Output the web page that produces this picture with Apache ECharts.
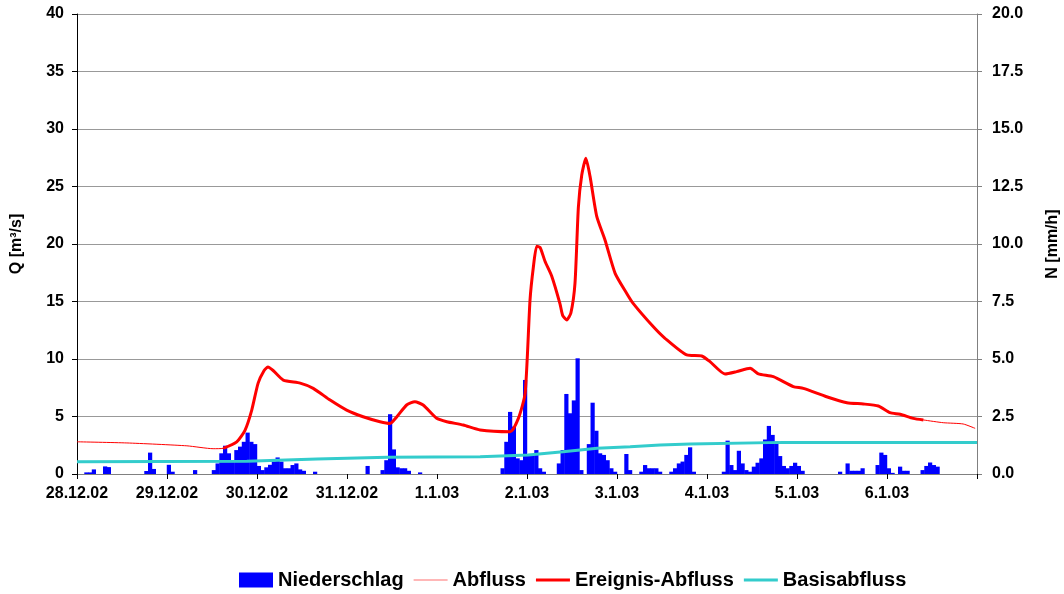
<!DOCTYPE html>
<html>
<head>
<meta charset="utf-8">
<script src="https://cdn.jsdelivr.net/npm/echarts@6/dist/echarts.min.js"></script>
<style>
  html, body { margin: 0; padding: 0; background: #fff; }
  #myChart { width: 1064px; height: 594px; }
</style>
</head>
<body>
<div id="myChart"></div>
<script>
// x-Achse: Stunden ab 28.12.02 00:00, ein Tick pro Tag
const xLabels = ['28.12.02', '29.12.02', '30.12.02', '31.12.02', '1.1.03', '2.1.03', '3.1.03', '4.1.03', '5.1.03', '6.1.03', '']

// Niederschlag [mm/h], stündlich (Stunde, Wert)
const nStunde = [2, 3, 4, 7, 8, 18, 19, 20, 24, 25, 31, 36, 37, 38, 39, 40, 41, 42, 43, 44, 45, 46, 47,
  48, 49, 50, 51, 52, 53, 54, 55, 56, 57, 58, 59, 60, 63, 77, 81, 82, 83, 84, 85, 86, 87, 88, 91,
  113, 114, 115, 116, 117, 118, 119, 120, 121, 122, 123, 124, 128, 129, 130, 131, 132, 133, 134,
  136, 137, 138, 139, 140, 141, 142, 143, 146, 147, 150, 151, 152, 153, 154, 155, 158, 159, 160,
  161, 162, 163, 164, 172, 173, 174, 175, 176, 177, 178, 179, 180, 181, 182, 183, 184, 185, 186,
  187, 188, 189, 190, 191, 192, 193, 203, 205, 206, 207, 208, 209, 213, 214, 215, 216, 217, 219,
  220, 221, 225, 226, 227, 228, 229]
const nWert = [0.07, 0.07, 0.2, 0.33, 0.3, 0.13, 0.93, 0.22, 0.4, 0.1, 0.17, 0.17, 0.46, 0.9, 1.23, 0.9, 0.54, 1.04, 1.19, 1.4, 1.8, 1.4, 1.3,
  0.35, 0.17, 0.29, 0.4, 0.55, 0.72, 0.54, 0.25, 0.25, 0.39, 0.46, 0.2, 0.14, 0.1, 0.35, 0.17, 0.6, 2.6, 1.07, 0.29, 0.25, 0.25, 0.14, 0.07,
  0.25, 1.4, 2.7, 2.06, 0.68, 0.6, 4.09, 0.83, 0.83, 1.04, 0.25, 0.1, 0.46, 1.04, 3.48, 2.64, 3.2, 5.03, 0.17,
  1.3, 3.1, 1.88, 0.9, 0.83, 0.6, 0.25, 0.1, 0.87, 0.17, 0.1, 0.39, 0.25, 0.25, 0.25, 0.1, 0.1, 0.25, 0.46,
  0.54, 0.83, 1.16, 0.1, 0.1, 1.45, 0.39, 0.17, 1.01, 0.46, 0.17, 0.1, 0.32, 0.49, 0.68, 1.5, 2.09, 1.7, 1.41,
  0.78, 0.35, 0.25, 0.35, 0.49, 0.35, 0.14, 0.1, 0.46, 0.14, 0.14, 0.14, 0.25, 0.39, 0.93, 0.83, 0.25, 0.05, 0.32,
  0.14, 0.14, 0.17, 0.35, 0.5, 0.39, 0.32]

// Abfluss Q [m3/s]
const qStunde = [0, 13.3, 29.3, 36.3, 39, 42.6, 44.8, 46.6, 48.3, 49.9, 50.9, 52.3, 55, 59.5, 63, 67.5, 71.9,
  76.3, 80.8, 83.5, 85.3, 87.9, 90.1, 92.3, 95.9, 98.6, 103, 107.5, 115.5, 117.7, 119.5, 120.8, 121.7,
  122.6, 123.5, 124.8, 126.6, 128.8, 129.5, 130.6, 131.7, 132.8, 133.7, 134.6, 135.7, 136.8, 138.6,
  140.8, 143.5, 146.6, 148.3, 153.7, 156.8, 162.6, 166.6, 168.8, 172.8, 175.9, 179.5, 181.7, 185.7,
  191, 193.7, 199.9, 205.3, 209.7, 213.7, 216.8, 219.5, 223, 225.7, 231, 236.3, 239.5]
const qWert = [2.8, 2.7, 2.45, 2.2, 2.23, 2.8, 3.8, 5.56, 7.9, 9.0, 9.3, 9.0, 8.17, 7.9, 7.45, 6.43, 5.56,
  4.98, 4.55, 4.4, 4.98, 6.0, 6.28, 6.0, 4.84, 4.55, 4.26, 3.83, 3.68, 4.84, 7.0, 15.1, 18.0,
  19.8, 19.7, 18.5, 17.2, 14.8, 13.8, 13.4, 14.0, 16.6, 23.2, 26.0, 27.45, 25.9, 22.4,
  20.35, 17.45, 15.7, 14.84, 12.8, 11.8, 10.35, 10.26, 9.77, 8.7, 8.9, 9.19, 8.7, 8.46,
  7.6, 7.45, 6.72, 6.2, 6.09, 5.91, 5.33, 5.2, 4.84, 4.7, 4.46, 4.35, 3.97]

// Ereignis: Zeitfenster (Stunden)
const ereignisVon = 39
const ereignisBis = 225.7

// Basisabfluss [m3/s]
const bStunde = [0, 45.3, 64, 82.7, 107.5, 120.3, 129.6, 138.7, 147.5, 155.5, 163.5, 188.3, 240]
const bWert = [1.07, 1.1, 1.3, 1.45, 1.5, 1.65, 1.94, 2.23, 2.37, 2.52, 2.6, 2.75, 2.75]

const font = { fontFamily: 'Liberation Sans, Arial, sans-serif', fontWeight: 'bold', color: '#000' }

// Legendensymbole als Linien (unsichtbare Punkte halten die Box 34x15)
const iconDuenn = 'path://M0,0M34,15M0,7L34,7L34,8L0,8Z'
const iconDick = 'path://M0,0M34,15M0,6L34,6L34,9L0,9Z'

const niederschlag = nStunde.map((h, i) => [h + 0.5, nWert[i]])
const abfluss = qStunde.map((h, i) => [h, qWert[i]])
const ereignis = qStunde.map((h, i) => [h, qWert[i]]).filter(p => p[0] >= ereignisVon && p[0] <= ereignisBis)
const basis = bStunde.map((h, i) => [h, bWert[i]])

const myChart = echarts.init(document.getElementById('myChart'))
const option = {
  animation: false,
  backgroundColor: '#fff',
  textStyle: font,
  grid: { left: 77, right: 87, top: 14, bottom: 120, outerBoundsMode: 'none' },
  legend: {
    top: 565,
    left: 234,
    itemWidth: 34,
    itemHeight: 15,
    itemGap: 10,
    textStyle: { ...font, fontSize: 20 },
    data: [
      { name: 'Niederschlag', icon: 'rect' },
      { name: 'Abfluss', icon: iconDuenn, itemStyle: { color: '#ff7070' } },
      { name: 'Ereignis-Abfluss', icon: iconDick },
      { name: 'Basisabfluss', icon: iconDick }
    ]
  },
  xAxis: {
    type: 'value',
    min: 0,
    max: 240,
    interval: 24,
    axisLine: { lineStyle: { color: '#808080', width: 1 } },
    axisTick: { show: true, inside: false, length: 5, lineStyle: { color: '#000' } },
    splitLine: { show: false },
    axisLabel: {
      ...font,
      fontSize: 16,
      margin: 12,
      formatter: v => xLabels[Math.round(v / 24)]
    }
  },
  yAxis: [
    {
      type: 'value',
      min: 0,
      max: 40,
      interval: 5,
      name: 'Q [m³/s]',
      nameLocation: 'middle',
      nameRotate: 90,
      nameGap: 52,
      nameTextStyle: { ...font, fontSize: 16 },
      axisLine: { show: true, lineStyle: { color: '#000' } },
      axisTick: { show: true, length: 5, lineStyle: { color: '#000' } },
      splitLine: { lineStyle: { color: '#999', width: 1 } },
      axisLabel: { ...font, fontSize: 16, margin: 13 }
    },
    {
      type: 'value',
      min: 0,
      max: 20,
      interval: 2.5,
      name: 'N [mm/h]',
      nameLocation: 'middle',
      nameRotate: 90,
      nameGap: 68,
      nameTextStyle: { ...font, fontSize: 16 },
      axisLine: { show: true, lineStyle: { color: '#808080' } },
      axisTick: { show: true, length: 5, lineStyle: { color: '#808080' } },
      splitLine: { show: false },
      axisLabel: { ...font, fontSize: 16, margin: 15, formatter: v => v.toFixed(1) }
    }
  ],
  series: [
    {
      name: 'Niederschlag',
      type: 'bar',
      yAxisIndex: 1,
      barWidth: 4.2,
      barGap: '-100%',
      itemStyle: { color: '#0000ff' },
      data: niederschlag
    },
    {
      name: 'Abfluss',
      type: 'line',
      symbol: 'none',
      smooth: 0.2,
      lineStyle: { color: '#ff0000', width: 1 },
      itemStyle: { color: '#ff0000' },
      data: abfluss
    },
    {
      name: 'Ereignis-Abfluss',
      type: 'line',
      symbol: 'none',
      smooth: 0.2,
      lineStyle: { color: '#ff0000', width: 3 },
      itemStyle: { color: '#ff0000' },
      data: ereignis
    },
    {
      name: 'Basisabfluss',
      type: 'line',
      symbol: 'none',
      lineStyle: { color: '#33cccc', width: 3 },
      itemStyle: { color: '#33cccc' },
      data: basis
    }
  ]
}
myChart.setOption(option)
</script>
</body>
</html>
